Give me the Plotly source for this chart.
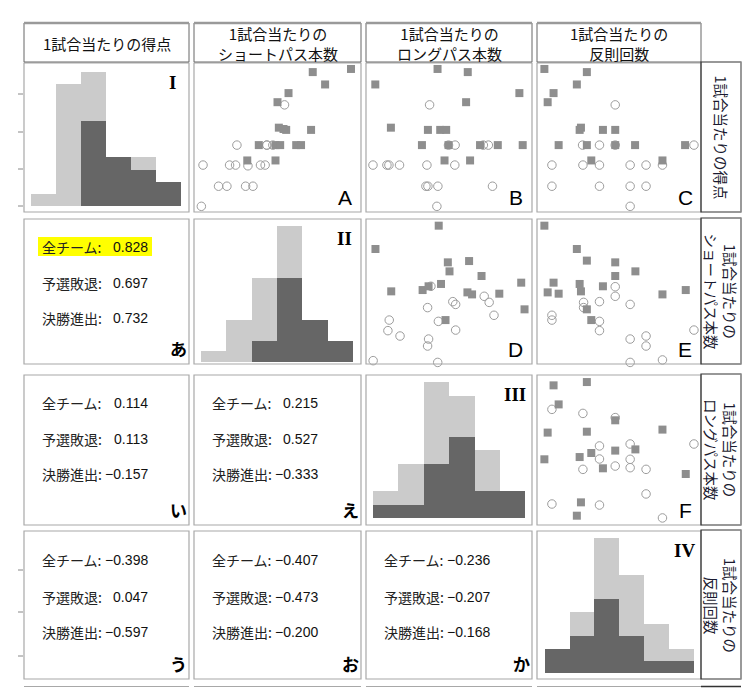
import plotly.graph_objects as go

# page body has an 8px margin; figure is sized/offset so screen coords match
OFF = 8
W, H = 753 - OFF, 688 - OFF

# ---------------- data ----------------
var_titles = ["1試合当たりの得点", "1試合当たりの<br>ショートパス本数",
              "1試合当たりの<br>ロングパス本数", "1試合当たりの<br>反則回数"]
row_titles = ["1試合当たりの得点", "1試合当たりの<br>ショートパス本数",
              "1試合当たりの<br>ロングパス本数", "1試合当たりの<br>反則回数"]
hist_numerals = ["I", "II", "III", "IV"]

# histograms (6 bins): all teams / teams advancing
bins = [0, 1, 2, 3, 4, 5]
score_all = [1, 10, 11, 4, 4, 2]
score_adv = [0, 0, 7, 4, 3, 2]
short_all = [1, 4, 8, 13, 4, 2]
short_adv = [0, 0, 2, 8, 4, 2]
long_all = [2, 4, 10, 9, 5, 2]
long_adv = [1, 1, 4, 6, 2, 2]
foul_all = [2, 5, 11, 8, 4, 2]
foul_adv = [2, 3, 6, 3, 1, 1]

# scatter panels (values read in panel-relative units 0-100)
A_adv_x = [71.1, 94.0, 78.5, 56.6, 50.0, 50.8, 55.2, 70.1, 38.8, 48.8, 51.6, 61.2, 64.1, 31.9, 48.8, 53.6]
A_adv_y = [93.9, 96.0, 85.6, 79.8, 73.7, 56.6, 55.1, 55.1, 44.9, 44.9, 44.9, 44.9, 44.9, 34.6, 34.6, 55.7]
A_out_x = [54.2, 25.7, 43.6, 47.2, 5.4, 21.3, 24.9, 32.3, 39.8, 42.6, 14.7, 19.7, 30.9, 35.3, 4.4, 43.6]
A_out_y = [71.9, 44.9, 44.9, 44.9, 31.5, 31.5, 31.5, 31.0, 31.5, 31.5, 17.3, 17.3, 17.3, 17.3, 3.8, 44.9]

B_adv_x = [43.1, 61.3, 5.6, 92.4, 60.3, 15.0, 37.3, 44.7, 48.3, 33.7, 49.7, 68.7, 79.4, 94.4, 47.3, 62.7]
B_adv_y = [96.0, 93.9, 85.6, 79.8, 73.7, 56.6, 55.1, 55.1, 55.1, 44.9, 44.9, 44.9, 44.9, 44.9, 34.6, 34.6]
B_out_x = [38.3, 53.7, 70.7, 73.7, 4.2, 12.6, 13.8, 20.2, 36.7, 53.5, 36.1, 37.3, 43.3, 76.2, 42.7, 49.7]
B_out_y = [71.9, 44.9, 44.9, 44.9, 31.5, 31.5, 31.5, 31.5, 31.5, 31.5, 17.3, 17.3, 17.3, 17.3, 3.8, 44.9]

C_adv_x = [4.5, 30.4, 24.3, 10.1, 6.5, 26.8, 26.0, 40.2, 47.7, 13.2, 30.4, 47.7, 59.8, 90.3, 33.1, 76.5]
C_adv_y = [96.0, 93.9, 85.6, 79.8, 73.7, 56.6, 55.1, 55.1, 55.1, 44.9, 44.9, 44.9, 44.9, 44.9, 34.6, 34.6]
C_out_x = [47.7, 27.8, 38.1, 47.7, 95.7, 9.1, 28.0, 38.1, 56.8, 66.5, 76.5, 9.1, 38.1, 56.8, 66.5, 56.8]
C_out_y = [71.9, 44.9, 44.9, 44.9, 44.9, 31.5, 31.5, 31.5, 31.5, 31.5, 31.5, 17.3, 17.3, 17.3, 17.3, 3.8]

D_adv_x = [43.8, 5.7, 49.3, 62.1, 50.3, 69.6, 93.5, 45.2, 15.2, 34.1, 37.7, 61.1, 63.9, 80.3, 95.5, 47.9]
D_adv_y = [95.4, 79.3, 70.1, 71.0, 63.9, 60.7, 56.1, 55.2, 50.1, 51.0, 53.6, 49.4, 48.0, 48.5, 37.7, 30.3]
D_out_x = [39.1, 71.2, 74.2, 52.3, 54.0, 37.1, 77.1, 14.0, 43.6, 54.0, 13.2, 20.5, 37.7, 37.1, 4.3, 43.2]
D_out_y = [53.6, 46.7, 42.5, 43.0, 41.1, 38.9, 33.6, 30.3, 29.4, 23.4, 23.0, 19.3, 17.2, 12.4, 2.3, 1.1]

E_adv_x = [4.5, 24.3, 30.4, 47.7, 60.0, 47.7, 10.1, 26.0, 40.2, 6.5, 13.2, 26.8, 76.5, 90.7, 30.4, 33.1]
E_adv_y = [95.4, 79.3, 71.3, 70.1, 63.9, 60.7, 56.1, 55.2, 53.6, 49.4, 48.5, 50.1, 48.0, 51.0, 37.7, 30.3]
E_out_x = [47.7, 47.7, 28.4, 28.4, 38.1, 56.8, 9.1, 9.1, 38.1, 38.1, 95.7, 56.8, 66.5, 66.5, 56.8, 76.5]
E_out_y = [53.3, 46.7, 42.5, 38.9, 43.0, 41.1, 33.6, 30.3, 29.4, 23.0, 23.4, 17.2, 19.3, 12.4, 1.1, 2.8]

F_adv_x = [10.1, 30.4, 13.2, 47.7, 6.5, 30.4, 76.5, 60.0, 47.7, 33.1, 26.0, 4.5, 40.2, 90.7, 26.8, 24.3]
F_adv_y = [93.1, 95.3, 80.4, 69.8, 61.6, 62.2, 63.6, 50.4, 49.6, 48.0, 45.3, 43.8, 37.8, 34.0, 15.1, 6.2]
F_out_x = [9.1, 28.0, 47.7, 56.8, 38.1, 95.7, 38.1, 56.8, 28.0, 47.7, 56.8, 66.5, 66.5, 9.1, 38.1, 76.5]
F_out_y = [77.1, 74.4, 71.6, 54.0, 52.7, 54.0, 44.0, 43.8, 37.1, 39.3, 38.2, 37.1, 20.7, 14.0, 13.3, 4.7]

# correlation panels (lower triangle)
corr_labels = ["全チーム:", "予選敗退:", "決勝進出:"]
corr_panels = ["あ", "い", "え", "う", "お", "か"]
corr_all = [0.828, 0.114, 0.215, -0.398, -0.407, -0.236]
corr_out = [0.697, 0.113, 0.527, 0.047, -0.473, -0.207]
corr_adv = [0.732, -0.157, -0.333, -0.597, -0.200, -0.168]
corr_pos = [(1, 0), (2, 0), (2, 1), (3, 0), (3, 1), (3, 2)]

# ---------------- layout geometry (screen pixels) ----------------
cols = [(24, 189), (194, 361), (366, 532), (537, 701)]
rows = [(63, 212), (219, 364), (375, 525), (531, 679)]
lab_col = (701, 741)

LIGHT = "#cbcbcb"
DARK = "#666666"
SQ = "#8e8e8e"
CIRC = "#9c9c9c"
BORDER = "#a8a8a8"

fig = go.Figure()
shapes = []
anns = []


def px(x):
    return (x - OFF) / W


def py(y):
    return 1 - (y - OFF) / H


axn = [0]


def add_axes(r, c, xr, yr):
    axn[0] += 1
    n = axn[0]
    xa = "x" if n == 1 else f"x{n}"
    ya = "y" if n == 1 else f"y{n}"
    xl = "xaxis" if n == 1 else f"xaxis{n}"
    yl = "yaxis" if n == 1 else f"yaxis{n}"
    x0, x1 = cols[c]
    y0, y1 = rows[r]
    fig.update_layout(**{
        xl: dict(domain=[px(x0), px(x1)], range=xr, visible=False, anchor=ya,
                 showgrid=False, zeroline=False, fixedrange=True),
        yl: dict(domain=[py(y1), py(y0)], range=yr, visible=False, anchor=xa,
                 showgrid=False, zeroline=False, fixedrange=True),
    })
    return xa, ya


def ann(x, y, text, size, family="Noto Sans CJK JP", xanchor="center",
        yanchor="middle", color="#000", angle=0):
    anns.append(dict(x=px(x), y=py(y), xref="paper", yref="paper", text=text,
                     showarrow=False, xanchor=xanchor, yanchor=yanchor,
                     textangle=angle, align=xanchor, borderpad=0,
                     font=dict(size=size, family=family, color=color)))


def hist_range(l, r, yb, unit):
    span = 6 / (r - l)
    x0 = -0.5 - l * span
    yspan = 1 / unit
    y0 = -yb * yspan
    return [x0, x0 + span], [y0, y0 + yspan]


# ---------------- histograms ----------------
hists = [(score_all, score_adv, (0.041, 0.949, 0.040, 0.0816)),
         (short_all, short_adv, (0.041, 0.953, 0.016, 0.0720)),
         (long_all, long_adv, (0.043, 0.959, 0.044, 0.0910)),
         (foul_all, foul_adv, (0.047, 0.957, 0.040, 0.0830))]
for i, (h_all, h_adv, geo) in enumerate(hists):
    xr, yr = hist_range(*geo)
    xa, ya = add_axes(i, i, xr, yr)
    fig.add_trace(go.Bar(x=bins, y=h_all, width=1, marker=dict(color=LIGHT, line=dict(width=0)),
                         xaxis=xa, yaxis=ya, showlegend=False, hoverinfo="skip"))
    fig.add_trace(go.Bar(x=bins, y=h_adv, width=1, marker=dict(color=DARK, line=dict(width=0)),
                         xaxis=xa, yaxis=ya, showlegend=False, hoverinfo="skip"))
    x0, x1 = cols[i]
    y0, y1 = rows[i]
    ann(x1 - 17, y0 + 19, "<b>" + hist_numerals[i] + "</b>", 19, family="Liberation Serif")

# ---------------- scatters ----------------
scatters = [("A", 0, 1, A_adv_x, A_adv_y, A_out_x, A_out_y),
            ("B", 0, 2, B_adv_x, B_adv_y, B_out_x, B_out_y),
            ("C", 0, 3, C_adv_x, C_adv_y, C_out_x, C_out_y),
            ("D", 1, 2, D_adv_x, D_adv_y, D_out_x, D_out_y),
            ("E", 1, 3, E_adv_x, E_adv_y, E_out_x, E_out_y),
            ("F", 2, 3, F_adv_x, F_adv_y, F_out_x, F_out_y)]
for name, r, c, ax_, ay_, ox_, oy_ in scatters:
    xa, ya = add_axes(r, c, [0, 100], [0, 100])
    fig.add_trace(go.Scatter(x=ox_, y=oy_, mode="markers", xaxis=xa, yaxis=ya,
                             marker=dict(symbol="circle-open", size=8.5, color=CIRC,
                                         line=dict(width=1, color=CIRC)),
                             cliponaxis=False, showlegend=False, hoverinfo="skip"))
    fig.add_trace(go.Scatter(x=ax_, y=ay_, mode="markers", xaxis=xa, yaxis=ya,
                             marker=dict(symbol="square", size=8, color=SQ,
                                         line=dict(width=0)),
                             cliponaxis=False, showlegend=False, hoverinfo="skip"))
    x0, x1 = cols[c]
    y0, y1 = rows[r]
    ann(x1 - 16, y1 - 15, name, 21, family="Liberation Sans")

# ---------------- correlation text panels ----------------
def fmt(v):
    s = f"{abs(v):.3f}"
    return ("−" + s) if v < 0 else s


for k, (r, c) in enumerate(corr_pos):
    x0, x1 = cols[c]
    y0, y1 = rows[r]
    if k == 0:
        shapes.append(dict(type="rect", xref="paper", yref="paper",
                           x0=px(x0 + 14), x1=px(x0 + 128), y0=py(y0 + 37), y1=py(y0 + 18),
                           fillcolor="#ffff00", line=dict(width=0), layer="below"))
    offs = [28, 64, 99] if r < 3 else [29, 66, 101]
    vals = [corr_all[k], corr_out[k], corr_adv[k]]
    for j in range(3):
        ann(x0 + 17, y0 + offs[j], corr_labels[j], 14, xanchor="left", color="#222")
        ann(x0 + 125, y0 + offs[j], fmt(vals[j]), 14, family="Liberation Sans",
            xanchor="right", color="#111")
    ann(x1 - 11, y1 - 16, "<b>" + corr_panels[k] + "</b>", 17)

# ---------------- boxes ----------------
for r in range(4):
    for c in range(4):
        x0, x1 = cols[c]
        y0, y1 = rows[r]
        shapes.append(dict(type="rect", xref="paper", yref="paper",
                           x0=px(x0), x1=px(x1), y0=py(y1), y1=py(y0),
                           line=dict(color=BORDER, width=1.2), layer="above"))

# header boxes
for c in range(4):
    x0, x1 = cols[c]
    shapes.append(dict(type="rect", xref="paper", yref="paper",
                       x0=px(x0), x1=px(x1), y0=py(62), y1=py(23),
                       line=dict(color="#666", width=1)))
    shapes.append(dict(type="line", xref="paper", yref="paper",
                       x0=px(x0), x1=px(x1), y0=py(23), y1=py(23),
                       line=dict(color="#9a9a9a", width=2.5)))
    ann((x0 + x1) / 2, 43, var_titles[c], 15, color="#111")

# right-hand label boxes
for r in range(4):
    y0, y1 = rows[r]
    shapes.append(dict(type="rect", xref="paper", yref="paper",
                       x0=px(lab_col[0]), x1=px(lab_col[1]), y0=py(y1), y1=py(y0 - 1),
                       line=dict(color="#333", width=1.2)))
    shapes.append(dict(type="line", xref="paper", yref="paper",
                       x0=px(lab_col[1]), x1=px(lab_col[1]), y0=py(y1), y1=py(y0 - 1),
                       line=dict(color="#aaa", width=1.2)))
    ann((lab_col[0] + lab_col[1]) / 2, (y0 + y1) / 2, row_titles[r], 14.5,
        color="#1a1a30", angle=90)

# partial next row at the bottom edge
for c in range(4):
    x0, x1 = cols[c]
    shapes.append(dict(type="line", xref="paper", yref="paper",
                       x0=px(x0), x1=px(x1), y0=py(686.5), y1=py(686.5),
                       line=dict(color=BORDER, width=1.2)))
shapes.append(dict(type="line", xref="paper", yref="paper",
                   x0=px(lab_col[0]), x1=px(lab_col[1]), y0=py(686.5), y1=py(686.5),
                   line=dict(color="#333", width=1.5)))

# small tick marks on the far left
for yy in [94, 132, 169, 206, 570, 612, 656]:
    shapes.append(dict(type="line", xref="paper", yref="paper",
                       x0=px(18), x1=px(23), y0=py(yy), y1=py(yy),
                       line=dict(color="#888", width=1)))

fig.update_layout(width=W, height=H, margin=dict(l=0, r=0, t=0, b=0),
                  paper_bgcolor="white", plot_bgcolor="rgba(0,0,0,0)",
                  barmode="overlay", bargap=0, showlegend=False,
                  shapes=shapes, annotations=anns)

fig.write_html("out.html")
